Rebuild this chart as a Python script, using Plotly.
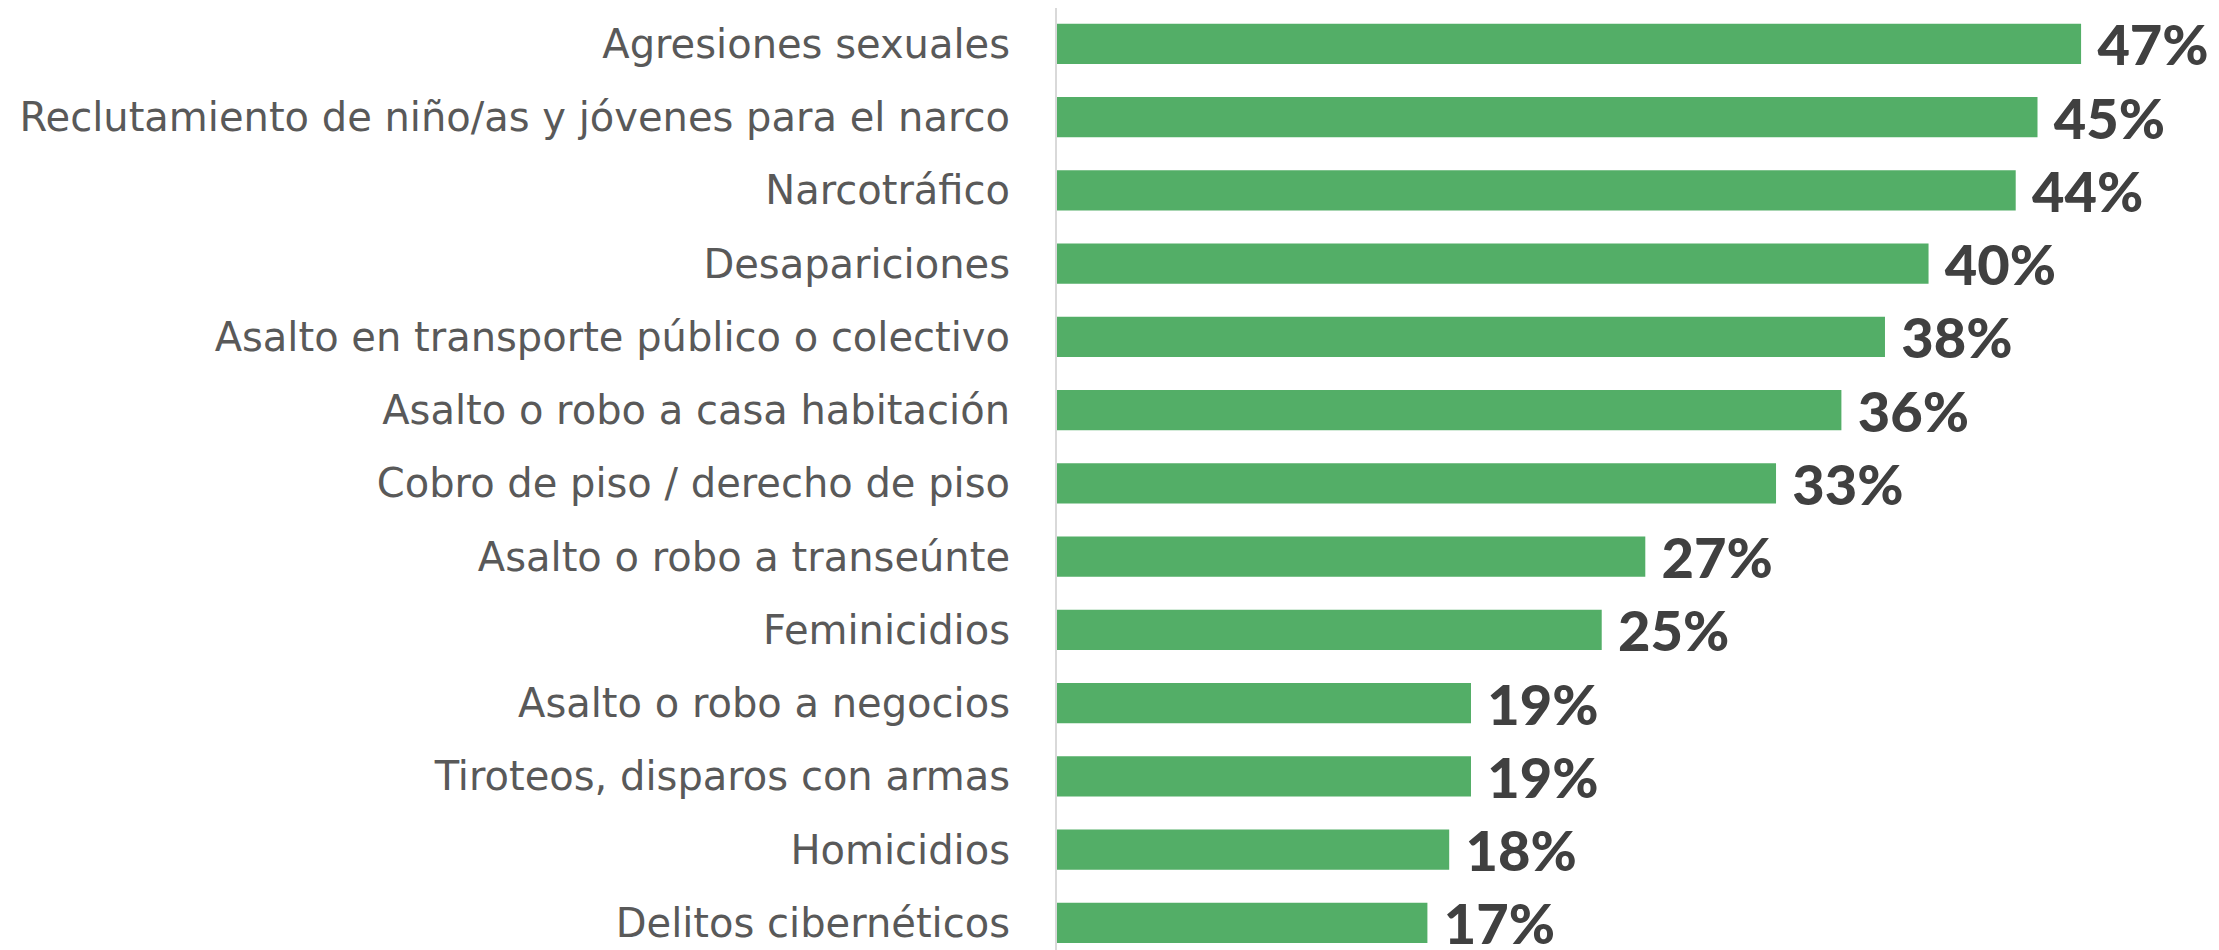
import plotly.graph_objects as go

categorias = [
    'Agresiones sexuales',
    'Reclutamiento de niño/as y jóvenes para el narco',
    'Narcotráfico',
    'Desapariciones',
    'Asalto en transporte público o colectivo',
    'Asalto o robo a casa habitación',
    'Cobro de piso / derecho de piso',
    'Asalto o robo a transeúnte',
    'Feminicidios',
    'Asalto o robo a negocios',
    'Tiroteos, disparos con armas',
    'Homicidios',
    'Delitos cibernéticos',
]
porcentajes = [47, 45, 44, 40, 38, 36, 33, 27, 25, 19, 19, 18, 17]
etiquetas = [f'{v}%' for v in porcentajes]

fig = go.Figure(go.Bar(
    x=porcentajes,
    y=categorias,
    orientation='h',
    marker=dict(color='#53AE67', line=dict(width=0)),
    text=etiquetas,
    texttemplate=' %{text}',
    textposition='outside',
    constraintext='none',
    cliponaxis=False,
    textfont=dict(family='Lato', size=56, color='#404040', weight=900),
))

# the page body adds an 8px margin, so the figure is a bit smaller
fig.update_layout(
    width=2211, height=942,
    margin=dict(l=1049, r=0, t=0, b=0),
    plot_bgcolor='white', paper_bgcolor='white',
    bargap=0.45,
    showlegend=False,
    xaxis=dict(range=[0, 53.33], visible=False),
    yaxis=dict(
        range=[12.37, -0.49],
        showline=True, linecolor='#D9D9D9', linewidth=2,
        showgrid=False, ticks='', ticklabelstandoff=37,
        tickfont=dict(family='DejaVu Sans', size=40, color='#595959'),
    ),
)

fig.write_html('out.html')
